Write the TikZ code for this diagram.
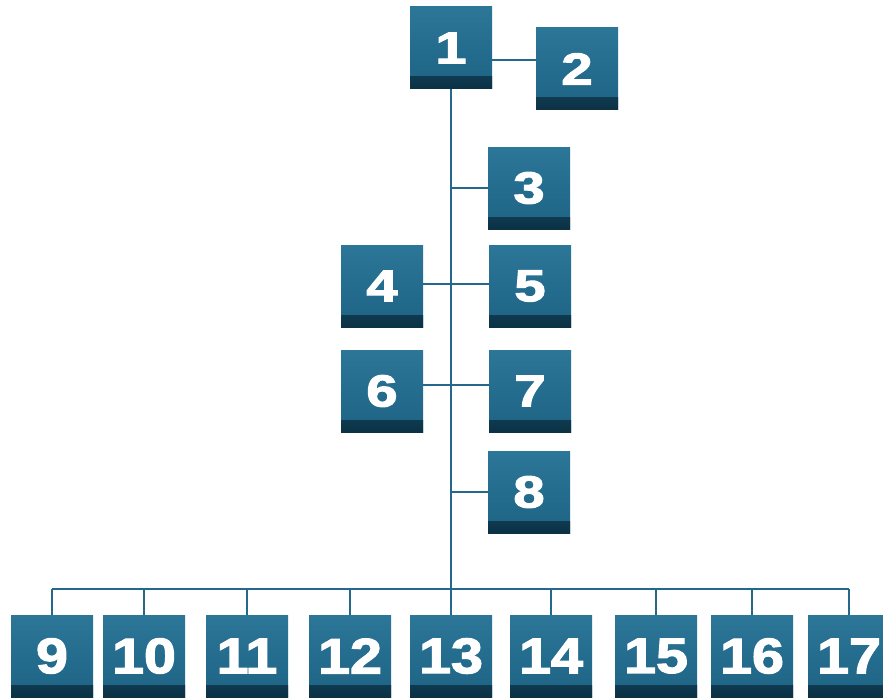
\documentclass[tikz,border=0pt]{standalone}
\usepackage{fontspec}
\setmainfont{Liberation Sans}
\newfontfamily\heavyfont[FakeBold=2.2]{Liberation Sans Bold}
\usetikzlibrary{positioning,calc}
\definecolor{boxteal}{RGB}{29,99,132}
\definecolor{boxlight}{RGB}{44,118,152}
\definecolor{boxdark}{RGB}{12,50,70}
\definecolor{linkblue}{RGB}{38,104,140}
\newcommand{\boxnum}[1]{\scalebox{1.25}[1]{#1}}
\tikzset{
  numbox/.style={minimum width=82pt, minimum height=82pt, inner sep=0pt,
    top color=boxlight, bottom color=boxteal, text=white,
    font=\fontsize{45}{45}\selectfont\heavyfont,
    path picture={\shade[top color=boxteal, bottom color=boxdark]
      ([yshift=12pt]path picture bounding box.south west) rectangle
      (path picture bounding box.south east);
      \fill[boxdark] (path picture bounding box.south west) rectangle
      ([yshift=3pt]path picture bounding box.south east);}},
  bignum/.style={numbox, font=\fontsize{50}{50}\selectfont\heavyfont},
  link/.style={linkblue, line width=1.3pt}
}

\begin{document}
\begin{tikzpicture}[x=1pt,y=-1pt]
  \useasboundingbox (0,0) rectangle (883,698);
  % Top of the chart
  \node[numbox] (n1) at (451,48) {\boxnum{1}};
  \node[numbox] (n2) at (577,69) {\boxnum{2}};
  % Middle column
  \node[numbox] (n3) at (529,188) {\boxnum{3}};
  \node[numbox] (n4) at (382,286) {\boxnum{4}};
  \node[numbox] (n5) at (530,286) {\boxnum{5}};
  \node[numbox] (n6) at (382,391) {\boxnum{6}};
  \node[numbox] (n7) at (530,391) {\boxnum{7}};
  \node[numbox] (n8) at (529,492) {\boxnum{8}};
  % Bottom row
  \foreach \i/\x in {9/52,10/144,11/247,12/350,13/451,14/551,15/656,16/752,17/849}
    \node[bignum] (n\i) at (\x,656) {\scalebox{1.15}[1]{\i}};
  \coordinate (bus) at (451,589);
  % Connectors
  \draw[link] (n1.south) -- (bus);
  \draw[link] ([yshift=-12pt]n1.east) -- ([yshift=-12pt]n1.east -| n2.west);
  \draw[link] (n3.west) -- (n3.west -| n1.south);
  \draw[link] (n8.west) -- (n8.west -| n1.south);
  \draw[link] ([yshift=2pt]n4.east) -- ([yshift=2pt]n5.west);
  \draw[link] ([yshift=6pt]n6.east) -- ([yshift=6pt]n7.west);
  \draw[link] (n9.north |- bus) -- (n17.north |- bus);
  \foreach \i in {9,...,17}
    \draw[link] (n\i.north |- bus) -- (n\i.north);
\end{tikzpicture}
\end{document}
